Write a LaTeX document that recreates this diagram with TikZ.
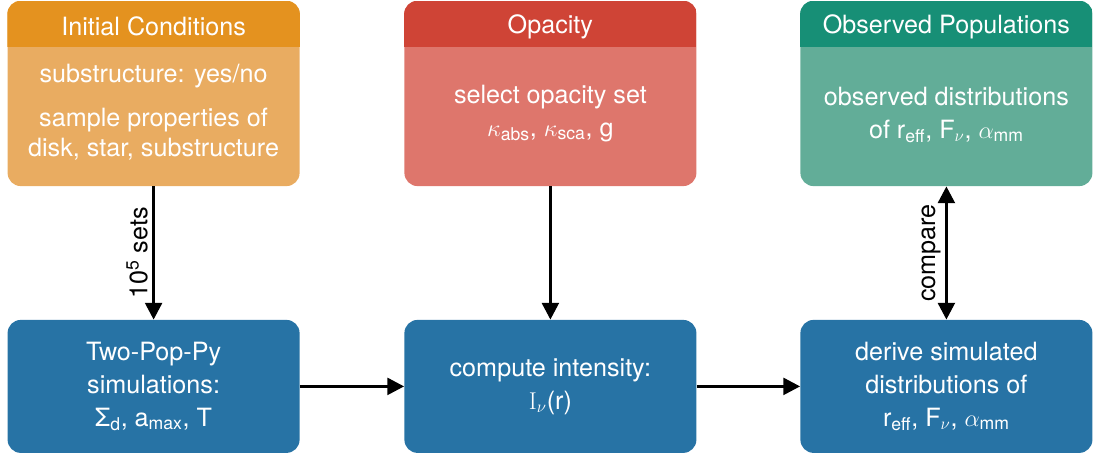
\documentclass[tikz,border=0pt]{standalone}
\usepackage{amsmath}
\usepackage[no-math]{fontspec}
\setmainfont{TeX Gyre Heros}
\usetikzlibrary{positioning,arrows.meta}

\definecolor{icHead}{HTML}{E4921F}
\definecolor{icBody}{HTML}{E9AC61}
\definecolor{opHead}{HTML}{CF4436}
\definecolor{opBody}{HTML}{DE766C}
\definecolor{obHead}{HTML}{178F76}
\definecolor{obBody}{HTML}{62AD98}
\definecolor{simBlue}{HTML}{2773A5}

\newcommand{\boxfont}{\fontsize{17.9}{21.5}\selectfont}

\tikzset{
  panel/.style={rectangle, rounded corners=0.33cm, inner sep=0pt, minimum width=7.3cm,
    text=white, align=center, font=\boxfont},
  toppanel/.style={panel, minimum height=4.625cm},
  botpanel/.style={panel, fill=simBlue, minimum height=3.325cm},
  paneltext/.style={text=white, align=center, font=\boxfont},
  flow/.style={line width=2.2pt, -{Triangle[length=0.42cm,width=0.42cm]}},
  flowboth/.style={line width=2.2pt, {Triangle[length=0.42cm,width=0.42cm]}-{Triangle[length=0.42cm,width=0.42cm]}},
  flowlabel/.style={font=\boxfont, rotate=90, above, inner sep=3pt}
}

\begin{document}
\begin{tikzpicture}
  \useasboundingbox (0,0) rectangle (27.325,-11.375);
  % top row
  \node[toppanel, fill=icBody] (ic) at (3.84,-2.34) {};
  \node[toppanel, fill=opBody] (opac) at (13.76,-2.34) {};
  \node[toppanel, fill=obBody] (obs) at (23.66,-2.34) {};
  \foreach \b/\c in {ic/icHead, opac/opHead, obs/obHead} {
    \begin{scope}
      \clip[rounded corners=0.33cm] (\b.south west) rectangle (\b.north east);
      \fill[\c] (\b.north west) rectangle ([yshift=-1.15cm]\b.north east);
    \end{scope}
  }
  \node[paneltext] (ic-head) at (3.84,-0.66) {Initial Conditions};
  \node[paneltext] (opac-head) at (13.76,-0.66) {Opacity};
  \node[paneltext] (obs-head) at (23.66,-0.66) {Observed Populations};
  \node[paneltext] (ic-body) at (3.84,-2.8)
    {substructure: yes/no\\[0.35cm]sample properties of\\disk, star, substructure};
  \node[paneltext] (opac-body) at (13.76,-2.83)
    {select opacity set\\[2pt]$\kappa_{\text{abs}}$, $\kappa_{\text{sca}}$, g};
  \node[paneltext] (obs-body) at (23.66,-2.87)
    {observed distributions\\[2pt]of $\text{r}_{\text{eff}}$, $\text{F}_\nu$, $\alpha_{\text{mm}}$};
  % bottom row
  \node[botpanel] (sim) at (3.84,-9.66)
    {Two-Pop-Py\\[2pt]simulations:\\[2pt]$\text{Σ}_{\text{d}}$, $\text{a}_{\text{max}}$, T};
  \node[botpanel] (inten) at (13.76,-9.66)
    {compute intensity:\\[2pt]$\mathrm{I}_\nu$(r)};
  \node[botpanel] (derive) at (23.66,-9.66)
    {derive simulated\\[2pt]distributions of\\[2pt]$\text{r}_{\text{eff}}$, $\text{F}_\nu$, $\alpha_{\text{mm}}$};
  % arrows
  \draw[flow] (ic) -- node[flowlabel] (sets) {10\textsuperscript{5} sets} (sim);
  \draw[flow] (opac) -- (inten);
  \draw[flow] (sim) -- (inten);
  \draw[flow] (inten) -- (derive);
  \draw[flowboth] (derive) -- node[flowlabel] (cmp) {compare} (obs);
\end{tikzpicture}
\end{document}
